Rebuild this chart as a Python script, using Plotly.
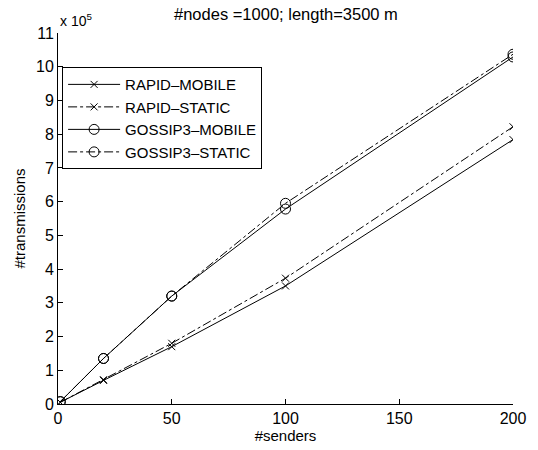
import plotly.graph_objects as go

senders = [1, 20, 50, 100, 200]
rapid_mobile = [0.05, 0.70, 1.70, 3.50, 7.84]
rapid_static = [0.05, 0.72, 1.80, 3.73, 8.22]
gossip_mobile = [0.07, 1.35, 3.20, 5.78, 10.29]
gossip_static = [0.07, 1.35, 3.20, 5.95, 10.37]

series = [
    ("RAPID\u2013MOBILE", rapid_mobile, "solid", "x-thin-open", 7),
    ("RAPID\u2013STATIC", rapid_static, "dashdot", "x-thin-open", 7),
    ("GOSSIP3\u2013MOBILE", gossip_mobile, "solid", "circle-open", 10),
    ("GOSSIP3\u2013STATIC", gossip_static, "dashdot", "circle-open", 10),
]

font = "Liberation Sans, Arial, sans-serif"
fig = go.Figure()
for name, vals, dash, sym, sz in series:
    fig.add_trace(go.Scatter(
        x=senders, y=vals, name=name, mode="lines+markers",
        line=dict(color="black", width=1, dash=dash),
        marker=dict(symbol=sym, size=sz, color="black", line=dict(width=1, color="black")),
    ))

fig.update_layout(
    width=538, height=450,
    margin=dict(l=58, r=22, t=33, b=46),
    paper_bgcolor="white", plot_bgcolor="white",
    font=dict(family=font, size=15, color="black"),
    xaxis=dict(range=[0, 200], tickvals=[0, 50, 100, 150, 200], ticks="inside",
               ticklen=5, tickcolor="black", showline=True, linecolor="black",
               linewidth=1, showgrid=False, zeroline=False, mirror=False,
               tickfont=dict(size=16),
               title=dict(text="#senders", font=dict(size=15), standoff=0)),
    yaxis=dict(range=[0, 11], dtick=1, ticks="inside", ticklen=5, tickcolor="black",
               showline=True, linecolor="black", linewidth=1, showgrid=False,
               zeroline=False, mirror=False, tickfont=dict(size=16),
               title=dict(text="#transmissions", font=dict(size=15), standoff=6)),
    legend=dict(x=0.009, y=0.908, xanchor="left", yanchor="top",
                bordercolor="black", borderwidth=1, bgcolor="white",
                font=dict(size=15), tracegroupgap=0, itemwidth=52),
    showlegend=True,
)
fig.add_annotation(text="#nodes =1000; length=3500 m", xref="paper", yref="paper",
                   x=0.5, y=1.0, xanchor="center", yanchor="bottom", showarrow=False,
                   font=dict(size=16.5, family=font), yshift=8)
fig.add_annotation(text="x 10<sup>5</sup>", xref="paper", yref="paper", x=0.0, y=1.0,
                   xanchor="left", yanchor="bottom", showarrow=False,
                   font=dict(size=14, family=font), yshift=2)
fig.write_html("out.html")
